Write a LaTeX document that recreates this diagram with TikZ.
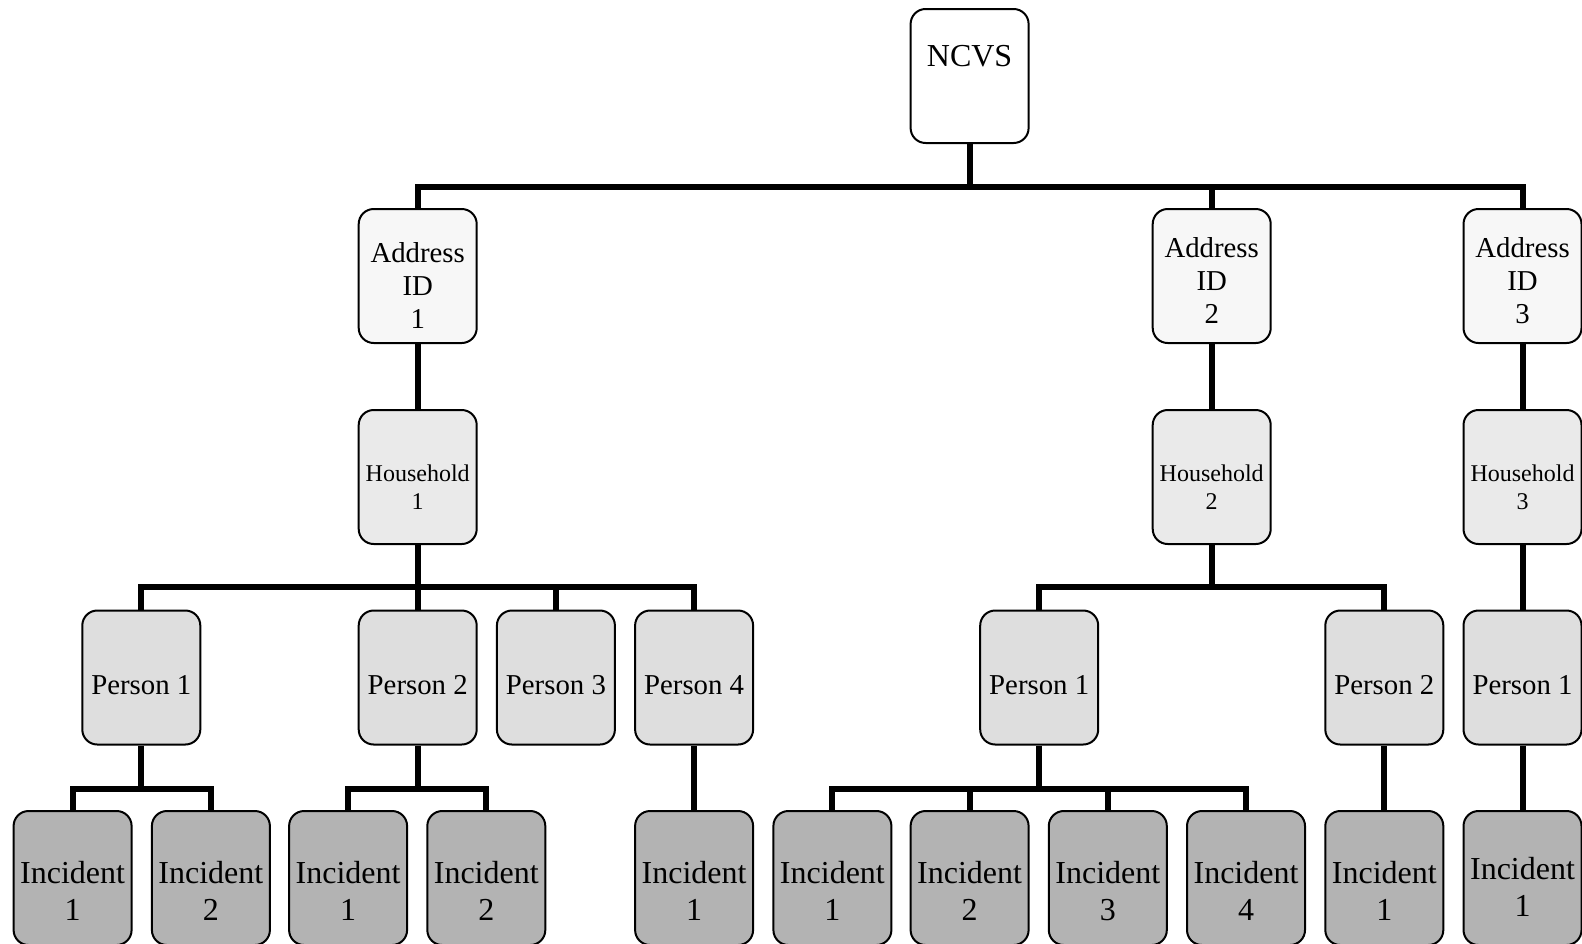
\documentclass[tikz,border=0pt]{standalone}
\usepackage{fontspec}
\setmainfont{Liberation Serif}
\newcommand\boxtext[3]{\raisebox{0pt}[\dimexpr\height+#1\relax][\dimexpr\depth+#2\relax]{\begin{tabular}{@{}c@{}}#3\end{tabular}}}
\definecolor{cAddr}{HTML}{F7F7F7}
\definecolor{cHouse}{HTML}{EAEAEA}
\definecolor{cPers}{HTML}{DEDEDE}
\definecolor{cInc}{HTML}{B3B3B3}
\tikzset{
  box/.style={draw=black, line width=1pt, rounded corners=7.5pt, minimum width=59pt, minimum height=67pt, inner sep=0pt},
  topbox/.style={box, fill=white, font=\fontsize{16}{18.5}\selectfont},
  addrbox/.style={box, fill=cAddr, font=\fontsize{14.4}{16.6}\selectfont},
  housebox/.style={box, fill=cHouse, font=\fontsize{12}{13.6}\selectfont},
  persbox/.style={box, fill=cPers, font=\fontsize{14.4}{16.6}\selectfont},
  incbox/.style={box, fill=cInc, font=\fontsize{16}{18.5}\selectfont},
  conn/.style={line width=3pt}
}
\begin{document}
\begin{tikzpicture}[x=0.5pt,y=-0.5pt]
\useasboundingbox (0,0) rectangle (1582,943);
% bus levels
\coordinate (bTop) at (0,187);
\coordinate (bHH) at (0,587);
\coordinate (bP) at (0,789);
% nodes
\node[topbox] (ncvs) at (969.6,76) {\boxtext{0pt}{16.5pt}{NCVS}};
\node[addrbox] (a1) at (417.7,276) {\boxtext{13pt}{0pt}{Address\\ID\\1}};
\node[addrbox] (a2) at (1211.7,276) {\boxtext{8pt}{0pt}{Address\\ID\\2}};
\node[addrbox] (a3) at (1522.5,276) {\boxtext{8pt}{0pt}{Address\\ID\\3}};
\node[housebox] (h1) at (417.7,477) {\boxtext{13pt}{0pt}{Household\\1}};
\node[housebox] (h2) at (1211.7,477) {\boxtext{13pt}{0pt}{Household\\2}};
\node[housebox] (h3) at (1522.5,477) {\boxtext{13pt}{0pt}{Household\\3}};
\node[persbox] (p11) at (141.3,677.5) {\boxtext{10.6pt}{0pt}{Person 1}};
\node[persbox] (p12) at (417.7,677.5) {\boxtext{10.6pt}{0pt}{Person 2}};
\node[persbox] (p13) at (555.9,677.5) {\boxtext{10.6pt}{0pt}{Person 3}};
\node[persbox] (p14) at (694.1,677.5) {\boxtext{10.6pt}{0pt}{Person 4}};
\node[persbox] (p21) at (1039.2,677.5) {\boxtext{10.6pt}{0pt}{Person 1}};
\node[persbox] (p22) at (1384.3,677.5) {\boxtext{10.6pt}{0pt}{Person 2}};
\node[persbox] (p31) at (1522.5,677.5) {\boxtext{10.6pt}{0pt}{Person 1}};
\node[incbox] (i111) at (72.6,878) {\boxtext{17pt}{0pt}{Incident\\1}};
\node[incbox] (i112) at (210.9,878) {\boxtext{17pt}{0pt}{Incident\\2}};
\node[incbox] (i121) at (348.1,878) {\boxtext{17pt}{0pt}{Incident\\1}};
\node[incbox] (i122) at (486.3,878) {\boxtext{17pt}{0pt}{Incident\\2}};
\node[incbox] (i141) at (694.1,878) {\boxtext{17pt}{0pt}{Incident\\1}};
\node[incbox] (i211) at (832.4,878) {\boxtext{17pt}{0pt}{Incident\\1}};
\node[incbox] (i212) at (969.6,878) {\boxtext{17pt}{0pt}{Incident\\2}};
\node[incbox] (i213) at (1107.8,878) {\boxtext{17pt}{0pt}{Incident\\3}};
\node[incbox] (i214) at (1246.0,878) {\boxtext{17pt}{0pt}{Incident\\4}};
\node[incbox] (i221) at (1384.3,878) {\boxtext{17pt}{0pt}{Incident\\1}};
\node[incbox] (i311) at (1522.5,878) {\boxtext{13pt}{0pt}{Incident\\1}};
% connectors: top level
\draw[conn] (ncvs.south) -- (ncvs.south |- bTop);
\draw[conn] (a1.north) |- (a3.north |- bTop) -- (a3.north);
\draw[conn] (a2.north) -- (a2.north |- bTop);
% address -> household
\draw[conn] (a1.south) -- (h1.north);
\draw[conn] (a2.south) -- (h2.north);
\draw[conn] (a3.south) -- (h3.north);
% household -> persons
\draw[conn] (h1.south) -- (h1.south |- bHH);
\draw[conn] (p11.north) |- (p14.north |- bHH) -- (p14.north);
\draw[conn] (p12.north) -- (p12.north |- bHH);
\draw[conn] (p13.north) -- (p13.north |- bHH);
\draw[conn] (h2.south) -- (h2.south |- bHH);
\draw[conn] (p21.north) |- (p22.north |- bHH) -- (p22.north);
\draw[conn] (h3.south) -- (p31.north);
% persons -> incidents
\draw[conn] (p11.south) -- (p11.south |- bP);
\draw[conn] (i111.north) |- (i112.north |- bP) -- (i112.north);
\draw[conn] (p12.south) -- (p12.south |- bP);
\draw[conn] (i121.north) |- (i122.north |- bP) -- (i122.north);
\draw[conn] (p14.south) -- (i141.north);
\draw[conn] (p21.south) -- (p21.south |- bP);
\draw[conn] (i211.north) |- (i214.north |- bP) -- (i214.north);
\draw[conn] (i212.north) -- (i212.north |- bP);
\draw[conn] (i213.north) -- (i213.north |- bP);
\draw[conn] (p22.south) -- (i221.north);
\draw[conn] (p31.south) -- (i311.north);
\end{tikzpicture}
\end{document}
